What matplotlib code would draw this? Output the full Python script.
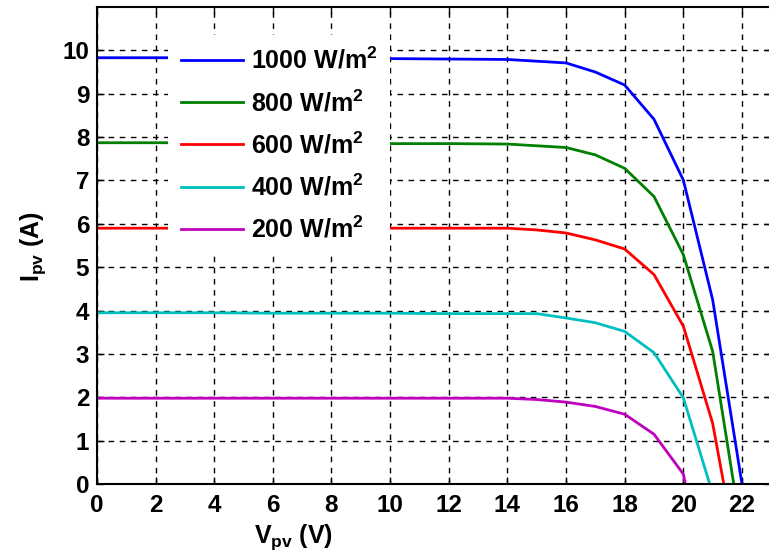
import matplotlib

matplotlib.use("Agg")
import matplotlib.pyplot as plt

# I-V curves of a PV module at different irradiance levels
V_FLAT = [0, 2, 4, 6, 8, 10, 12, 14, 15, 16, 17, 18, 19, 20]

V_1000 = V_FLAT + [21, 22.0]
I_1000 = [9.83, 9.83, 9.83, 9.82, 9.82, 9.81, 9.80, 9.79, 9.75, 9.71, 9.50, 9.20, 8.41, 7.01, 4.25, 0.0]

V_800 = V_FLAT + [21, 21.72]
I_800 = [7.87, 7.87, 7.87, 7.86, 7.86, 7.85, 7.85, 7.84, 7.80, 7.76, 7.59, 7.28, 6.63, 5.29, 3.06, 0.0]

V_600 = V_FLAT + [21, 21.38]
I_600 = [5.90, 5.90, 5.90, 5.90, 5.90, 5.90, 5.90, 5.90, 5.86, 5.79, 5.63, 5.42, 4.83, 3.64, 1.40, 0.0]

V_400 = V_FLAT + [20.9]
I_400 = [3.95, 3.95, 3.95, 3.94, 3.94, 3.94, 3.93, 3.93, 3.93, 3.83, 3.72, 3.52, 3.03, 1.99, 0.0]

V_200 = V_FLAT + [20.07]
I_200 = [1.98, 1.98, 1.98, 1.98, 1.98, 1.98, 1.98, 1.98, 1.95, 1.89, 1.79, 1.61, 1.15, 0.23, 0.0]

LABELS = ["1000 W/m$^2$", "800 W/m$^2$", "600 W/m$^2$", "400 W/m$^2$", "200 W/m$^2$"]
COLORS = ["#0000ff", "#008000", "#ff0000", "#00bfbf", "#bf00bf"]

X_TICKS = list(range(0, 23, 2))
Y_TICKS = list(range(0, 11))

plt.rcParams.update({
    "font.family": "Liberation Sans",
    "font.weight": "bold",
    "font.size": 17.5,
    "mathtext.fontset": "custom",
    "mathtext.rm": "Liberation Sans:bold",
    "mathtext.it": "Liberation Sans:bold",
    "mathtext.bf": "Liberation Sans:bold",
})

fig = plt.figure(figsize=(7.69, 5.59), dpi=100)
ax = fig.add_axes([0.126, 0.134, 0.877, 0.8535])

series = [(V_1000, I_1000), (V_800, I_800), (V_600, I_600), (V_400, I_400), (V_200, I_200)]
for (v, i), lab, col in zip(series, LABELS, COLORS):
    ax.plot(v, i, color=col, lw=2.0, label=lab)

ax.set_xlim(0, 23)
ax.set_ylim(0, 11)
ax.set_xticks(X_TICKS)
ax.set_yticks(Y_TICKS)
ax.tick_params(direction="in", length=5, width=1, top=True, right=True, labelsize=17.5)
ax.tick_params(axis="x", pad=7)
ax.tick_params(axis="y", pad=5.5)
for lbl in ax.get_xticklabels() + ax.get_yticklabels():
    lbl.set_fontweight("bold")
for sp in ax.spines.values():
    sp.set_linewidth(1.5)

ax.grid(True, color="black", ls=(0, (4, 4)), lw=1.0)
ax.set_axisbelow(True)

ax.set_xlabel("V$_{pv}$ (V)", fontsize=18, fontweight="bold")
ax.set_ylabel("I$_{pv}$ (A)", fontsize=18, fontweight="bold")
ax.xaxis.set_label_coords(0.292, -0.08)
ax.yaxis.set_label_coords(-0.072, 0.497)

leg = ax.legend(loc="upper left", bbox_to_anchor=(168 / 769, 1 - 35 / 559),
                bbox_transform=fig.transFigure, borderaxespad=0,
                frameon=True, fancybox=False, edgecolor="none", facecolor="white",
                framealpha=1.0, handlelength=2.5, handletextpad=0.32,
                labelspacing=0.63, borderpad=0.5,
                prop={"family": "Liberation Sans", "weight": "bold", "size": 18})
leg.set_zorder(5)

fig.savefig("out.png", dpi=100)
